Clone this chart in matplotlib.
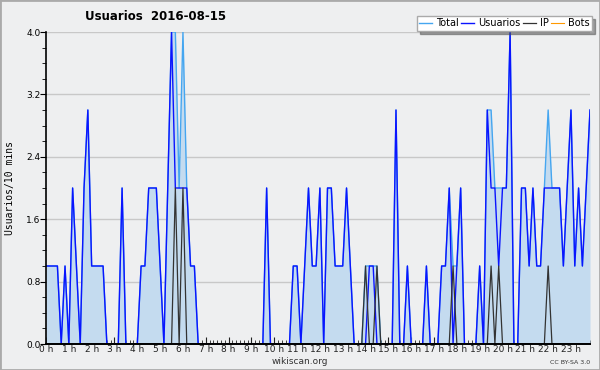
import matplotlib
matplotlib.use("Agg")
import matplotlib.pyplot as plt
import numpy as np
from matplotlib.ticker import MultipleLocator

# 10-minute slots, 144 per day
usuarios = [1, 1, 1, 1, 0, 1, 0, 2, 1, 0, 2, 3, 1, 1, 1, 1, 0, 0, 0, 0,
            2, 0, 0, 0, 0, 1, 1, 2, 2, 2, 1, 0, 2, 4, 2, 2, 2, 2, 1, 1,
            0, 0, 0, 0, 0, 0, 0, 0, 0, 0, 0, 0, 0, 0, 0, 0, 0, 0, 2, 0,
            0, 0, 0, 0, 0, 1, 1, 0, 1, 2, 1, 1, 2, 0, 2, 2, 1, 1, 1, 2,
            1, 0, 0, 0, 0, 1, 1, 0, 0, 0, 0, 0, 3, 0, 0, 1, 0, 0, 0, 0,
            1, 0, 0, 0, 1, 1, 2, 0, 1, 2, 0, 0, 0, 0, 1, 0, 3, 2, 2, 1,
            2, 2, 4, 0, 0, 2, 2, 1, 2, 1, 1, 2, 2, 2, 2, 2, 1, 2, 3, 1,
            2, 1, 2, 3]
ip = [0] * 144
for i, v in [(34, 2), (36, 2), (84, 1), (87, 1), (107, 1), (117, 1), (119, 1), (132, 1)]:
    ip[i] = v
bots = [0] * 144
total = [u + p + b for u, p, b in zip(usuarios, ip, bots)]

hours = np.arange(144) / 6.0
hour_labels = ["%d h" % h for h in range(24)]

bg = "#eeeff0"
fig = plt.figure(figsize=(6, 3.7), dpi=100, facecolor=bg)
ax = fig.add_axes([46 / 600, 1 - 344 / 370, 544 / 600, 312 / 370], facecolor=bg)

ax.fill_between(hours, total, 0, color="#c4dbef", lw=0)
ax.plot(hours, total, color="#45a6f0", lw=1.0, label="Total")
ax.plot(hours, usuarios, color="#0a14ff", lw=1.0, label="Usuarios")
ax.plot(hours, ip, color="#333333", lw=0.9, label="IP")
ax.plot(hours, bots, color="#ff9900", lw=0.8, label="Bots", zorder=2.4)

ax.set_xlim(0, 143 / 6.0)
ax.set_ylim(0, 4.0)
ax.set_yticks([0, 0.8, 1.6, 2.4, 3.2, 4.0])
ax.set_yticklabels(["0.0", "0.8", "1.6", "2.4", "3.2", "4.0"])
ax.yaxis.set_minor_locator(MultipleLocator(0.2))
ax.set_xticks(range(24))
ax.set_xticklabels(hour_labels)
ax.xaxis.set_minor_locator(MultipleLocator(1 / 6.0))
ax.grid(axis="y", color="#c8c8c8", lw=1)
ax.set_axisbelow(True)

for s in ["top", "right"]:
    ax.spines[s].set_visible(False)
ax.spines["left"].set_linewidth(1.2)
ax.spines["bottom"].set_linewidth(1.4)
ax.tick_params(axis="x", which="both", direction="in", labelsize=6.5, pad=1, colors="#222222")
ax.tick_params(axis="x", which="major", length=5)
ax.tick_params(axis="x", which="minor", length=3)
ax.tick_params(axis="y", which="major", direction="out", length=4, labelsize=6.5, pad=0)
ax.tick_params(axis="y", which="minor", direction="out", length=3)

fig.text(85 / 600, 1 - 17 / 370, "Usuarios  2016-08-15", fontsize=8.5, fontweight="bold",
         va="center", ha="left")
fig.text(10 / 600, 1 - 188 / 370, "Usuarios/10 mins", rotation=90, family="DejaVu Sans Mono",
         fontsize=7, va="center", ha="center")
fig.text(300 / 600, 1 - 362 / 370, "wikiscan.org", fontsize=6.5, ha="center", va="center", color="#333333")
fig.text(590 / 600, 1 - 362 / 370, "CC BY-SA 3.0", fontsize=4.5, ha="right", va="center", color="#333333")

leg = ax.legend(loc="upper right", bbox_to_anchor=(592 / 600, 1 - 16 / 370),
                bbox_transform=fig.transFigure, ncol=4, fontsize=7, frameon=True,
                fancybox=False, shadow=True, handlelength=1.3, handletextpad=0.4,
                columnspacing=0.3, borderpad=0.25, borderaxespad=0)
leg.get_frame().set_edgecolor("#aaaaaa")
leg.get_frame().set_facecolor("white")

fig.patches.append(plt.Rectangle((0, 0), 1, 1, transform=fig.transFigure, fill=False,
                                 edgecolor="#aaaaaa", lw=2))

fig.savefig("out.png", dpi=100, facecolor=bg)
